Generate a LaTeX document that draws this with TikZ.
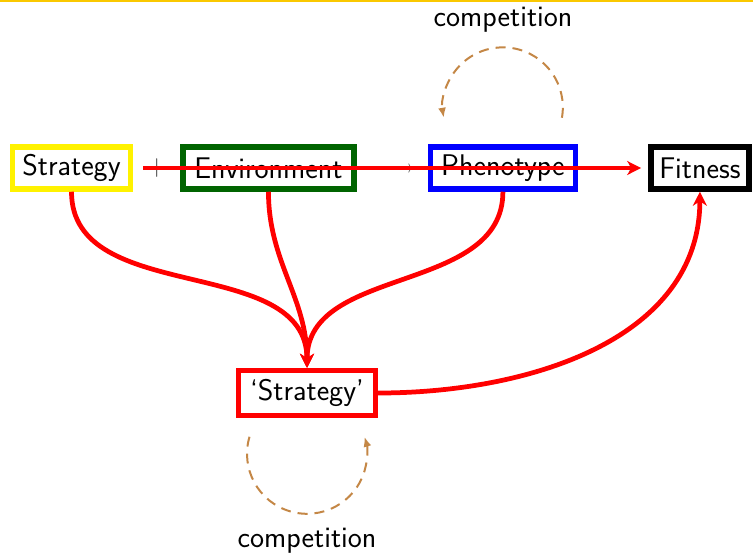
\documentclass[tikz,border=0pt]{standalone}
\usepackage{tikz}
\usetikzlibrary{arrows.meta,positioning,calc}

\definecolor{framebar}{RGB}{250,200,0}
\definecolor{envgreen}{RGB}{0,100,0}
\definecolor{compbrown}{RGB}{196,135,70}

\tikzset{
    box/.style={draw, line width=0.11cm, inner xsep=0.05cm, minimum height=0.84cm, font={\fontsize{17}{20}\selectfont\sffamily}},
    wordlbl/.style={font={\fontsize{17}{20}\selectfont\sffamily}},
    flow/.style={->, black!60, thin, shorten <=0.3cm, shorten >=0.3cm},
    link/.style={-{Stealth[length=0.28cm,width=0.28cm]}, red, line width=0.095cm},
    compete/.style={-{Latex[length=0.2cm,width=0.16cm]}, compbrown, line width=0.04cm, dash pattern=on 0.2cm off 0.14cm}
}

\begin{document}
\begin{tikzpicture}[x=0.02cm, y=0.02cm]
    \useasboundingbox (0,0) rectangle (753,-555);
    \fill[framebar] (0,0) rectangle (753,-2);

    \node[box, draw=yellow, minimum width=2.36cm] (strat) at (71.5,-168) {Strategy};
    \node[box, draw=envgreen, minimum width=3.42cm, right=0.94cm of strat] (env) {Environment};
    \node[box, draw=blue, minimum width=2.9cm, right=1.42cm of env] (phen) {Phenotype};
    \node[box, draw=black, minimum width=1.96cm, right=1.4cm of phen] (fit) {Fitness};
    \node[wordlbl, text=black!70] (plus) at ($(strat.east)!0.5!(env.west)$) {+};

    \draw[flow] (env) -- (phen); \draw[flow] (phen) -- (fit);
    \draw[link, shorten <=0.2cm, shorten >=0.14cm] (strat) -- (fit);

    \node[box, draw=red, minimum width=2.74cm, minimum height=0.9cm] (strat2) at (307,-393) {`Strategy'};

    \draw[link] (strat.south) to[out=-90, in=90] (strat2.north);
    \draw[link] (env.south) to[out=-90, in=90] (strat2.north);
    \draw[link] (phen.south) to[out=-90, in=90] (strat2.north);
    \draw[link] (strat2.east) to[out=0, in=-90] (fit.south);

    \node[wordlbl] (compTop) at (503,-20) {competition};
    \coordinate (compTopStart) at ($(phen.north)+(59,26.5)$);
    \draw[compete] (compTopStart) arc[start angle=-10, end angle=190, radius=1.2cm];

    \node[wordlbl] (compBot) at (307,-541) {competition};
    \coordinate (compBotStart) at ($(strat2.south)+(-57.5,-18.5)$);
    \draw[compete] (compBotStart) arc[start angle=163.5, end angle=376.5, radius=1.2cm];
\end{tikzpicture}
\end{document}
